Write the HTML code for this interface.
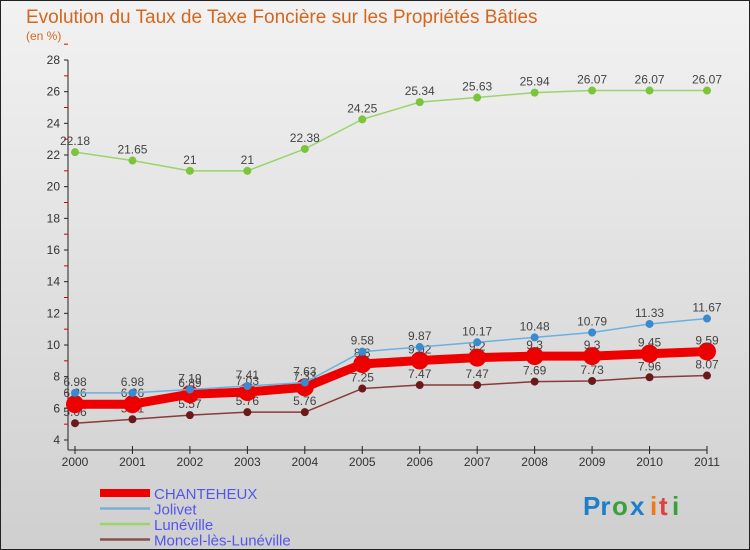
<!DOCTYPE html>
<html><head><meta charset="utf-8"><style>
body{margin:0;width:750px;height:550px;overflow:hidden;font-family:"Liberation Sans",sans-serif}
svg{display:block}
</style></head><body>
<svg width="750" height="550" xmlns="http://www.w3.org/2000/svg">
<defs><linearGradient id="bg" x1="0" y1="0" x2="0" y2="1"><stop offset="0" stop-color="#f2f2f2"/><stop offset="1" stop-color="#cfcfcf"/></linearGradient></defs>
<rect x="0.5" y="0.5" width="749" height="549" fill="url(#bg)" stroke="#222"/>
<text x="26" y="23" font-size="19" fill="#d4661e">Evolution du Taux de Taxe Foncière sur les Propriétés Bâties</text>
<text x="26" y="40" font-size="12" fill="#d4661e">(en %)</text>
<g id="axes"></g><g id="series"></g><g id="legend"></g>
<g font-size="26" font-weight="bold">
<text x="583" y="515" fill="#1b7fc9">Pr</text><text x="612" y="515" fill="#3aa03a">o</text><text x="630" y="515" fill="#1b7fc9">x</text><text x="650" y="515" fill="#f07a10">i</text><text x="659" y="515" fill="#e04040">t</text><text x="672" y="515" fill="#3aa03a">i</text>
</g>
</svg>
<script>
const years=[2000,2001,2002,2003,2004,2005,2006,2007,2008,2009,2010,2011];
const yTicks=[4,6,8,10,12,14,16,18,20,22,24,26,28];
const chanteheux=[6.26,6.26,6.89,7.03,7.33,8.8,9.02,9.2,9.3,9.3,9.45,9.59];
const jolivet=[6.98,6.98,7.19,7.41,7.63,9.58,9.87,10.17,10.48,10.79,11.33,11.67];
const luneville=[22.18,21.65,21,21,22.38,24.25,25.34,25.63,25.94,26.07,26.07,26.07];
const moncel=[5.06,5.31,5.57,5.76,5.76,7.25,7.47,7.47,7.69,7.73,7.96,8.07];
const NS="http://www.w3.org/2000/svg";
const X=i=>75+i*(707-75)/11;
const Y=v=>440-(v-4)*(380/24);
function mk(tag,attrs,parent,text){const e=document.createElementNS(NS,tag);for(const k in attrs)e.setAttribute(k,attrs[k]);if(text!==undefined)e.textContent=text;parent.appendChild(e);return e;}
const axes=document.getElementById('axes');
let yl=mk('line',{x1:68,y1:Y(28),x2:68,y2:450,stroke:'#222'},axes);


yTicks.forEach(t=>{
 mk('line',{x1:64,y1:Y(t),x2:68,y2:Y(t),stroke:'#222'},axes);
 mk('line',{x1:64,y1:Y(t+1),x2:68,y2:Y(t+1),stroke:'#d00'},axes);
 const l=mk('text',{x:60,y:Y(t)+4,'font-size':12,fill:'#333','text-anchor':'end'},axes,t);
 
 
});
let xl=mk('line',{x1:68,y1:450,x2:707,y2:450,stroke:'#222'},axes);


years.forEach((y,i)=>{
 mk('line',{x1:X(i),y1:446,x2:X(i),y2:454,stroke:'#222'},axes);
 const l=mk('text',{x:X(i),y:466,'font-size':12,fill:'#333','text-anchor':'middle'},axes,y);
 
 
});
const sg=document.getElementById('series');
function series(name,vals,color,lw,r,dot){
 const g=mk('g',{},sg);
 
 
 const p=mk('polyline',{points:vals.map((v,i)=>X(i)+','+Y(v)).join(' '),fill:'none',stroke:color,'stroke-width':lw,'stroke-linejoin':'round'},g);
 
 
 vals.forEach((v,i)=>{
  const c=mk('circle',{cx:X(i),cy:Y(v),r:r,fill:dot},g);
  
  
  const t=mk('text',{x:X(i),y:Y(v)-7,'font-size':12,fill:'#444','text-anchor':'middle'},g,v);
  
  
 });
}
series('moncel',moncel,'#8a3a3a',1.5,4,'#6b1a1a');
series('luneville',luneville,'#9ad46a',1.5,4,'#7cc43a');
series('chanteheux',chanteheux,'#ee0000',9,9,'#ee0000');
series('jolivet',jolivet,'#6ab0e0',1.5,4,'#3a8ad0');
const lg=document.getElementById('legend');
[['CHANTEHEUX','#ee0000',8],['Jolivet','#7aaed6',2.5],['Lunéville','#9ad46a',2.5],['Moncel-lès-Lunéville','#8a5050',2.5]].forEach((d,i)=>{
 const y=493+i*15.5;
 const s=mk('line',{x1:100,y1:y,x2:150,y2:y,stroke:d[1],'stroke-width':d[2]},lg);
 
 
 const t=mk('text',{x:154,y:y+6,'font-size':15,fill:'#5555ee'},lg,d[0]);
 
 
});
</script>
</body></html>
